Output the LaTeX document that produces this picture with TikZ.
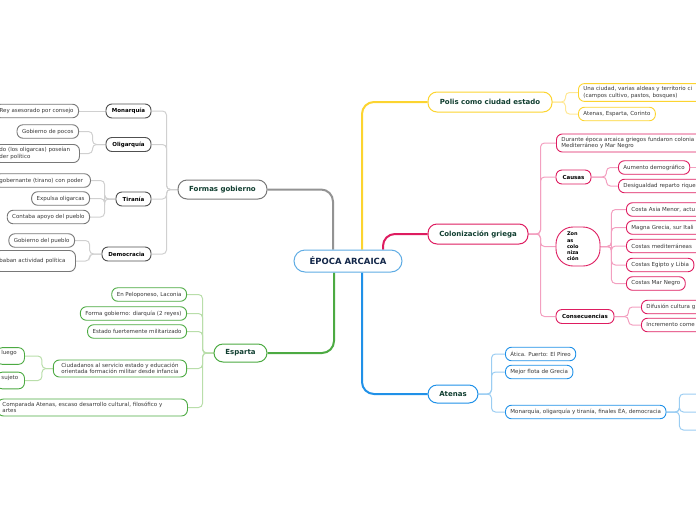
\documentclass[tikz,border=0pt]{standalone}
\usepackage{fontspec}
\setmainfont{DejaVu Sans}
\usetikzlibrary{positioning, backgrounds}
\definecolor{cGrey}{RGB}{120,120,120}
\definecolor{cGreyD}{RGB}{80,80,80}
\definecolor{cGreyL}{RGB}{208,208,208}
\definecolor{cGreen}{RGB}{76,170,66}
\definecolor{cGreenL}{RGB}{185,222,170}
\definecolor{cYel}{RGB}{252,212,48}
\definecolor{cYelL}{RGB}{255,232,150}
\definecolor{cPink}{RGB}{222,28,96}
\definecolor{cPinkL}{RGB}{243,160,192}
\definecolor{cBlue}{RGB}{32,145,232}
\definecolor{cBlueL}{RGB}{155,205,242}
\definecolor{cRoot}{RGB}{95,172,228}
\definecolor{cNavy}{RGB}{18,38,72}
\definecolor{cDark}{RGB}{16,62,48}

\begin{document}
\begin{tikzpicture}[x=1pt, y=-1pt,
    main/.style={draw=#1, fill=white, line width=1pt, rounded corners=9pt, inner xsep=6pt, inner ysep=2pt, font=\fontsize{7}{8}\selectfont\bfseries, text=cDark},
    hub/.style={draw=#1, fill=white, line width=0.9pt, rounded corners=6pt, inner xsep=5pt, inner ysep=2pt, minimum height=14pt, font=\fontsize{5.5}{6.5}\selectfont\bfseries},
    leaf/.style={draw=#1, fill=white, line width=0.9pt, rounded corners=6pt, inner xsep=5pt, inner ysep=3pt, minimum height=13.5pt, align=left, font=\fontsize{5.5}{6.5}\selectfont, text=black!78},
    trunk/.style={draw=#1, line width=2pt, rounded corners=12pt},
    link/.style={draw=#1, line width=1pt, rounded corners=4pt}]
  \useasboundingbox (0,0) rectangle (696,520);
  \clip (0,0) rectangle (696,520);

  % centre and main branches
  \node[main=cRoot, text=cNavy, font=\fontsize{8.5}{10}\selectfont\bfseries, minimum width=108pt, minimum height=22pt, rounded corners=11pt] (root) at (348,261) {ÉPOCA ARCAICA};
  \node[main=cGrey, minimum width=89pt, minimum height=19pt] (formas) at (222.5,189.5) {Formas gobierno};
  \node[main=cGreen, minimum width=53pt, minimum height=18pt] (esparta) at (240.5,353) {Esparta};
  \node[main=cYel, minimum width=124pt, minimum height=20pt] (polis) at (490,102) {Polis como ciudad estado};
  \node[main=cPink, minimum width=100pt, minimum height=20pt] (colon) at (478,234) {Colonización griega};
  \node[main=cBlue, minimum width=50pt, minimum height=18pt] (atenas) at (453,394) {Atenas};

  % formas gobierno
  \node[hub=cGreyD, minimum width=45pt] (mon) at (128.5,111) {Monarquía};
  \node[hub=cGreyD, minimum width=45pt] (oli) at (128.5,144.5) {Oligarquía};
  \node[hub=cGreyD, minimum width=35pt] (tir) at (133.5,199) {Tiranía};
  \node[hub=cGreyD, minimum width=49pt] (dem) at (126.5,254) {Democracia};
  \node[leaf=cGrey, anchor=east] (rey) at (79,111) {Rey asesorado por consejo};
  \node[leaf=cGrey, anchor=east] (pocos) at (79,131.5) {Gobierno de pocos};
  \node[leaf=cGrey, anchor=west, text width=75pt] (oligdo) at (-6,153.5) {do (los oligarcas) poseían\\der político};
  \node[leaf=cGrey, anchor=west, text width=86pt] (gobt) at (-6,180.5) {gobernante (tirano) con poder};
  \node[leaf=cGrey, anchor=east] (expulsa) at (90,198.5) {Expulsa oligarcas};
  \node[leaf=cGrey, anchor=east] (contaba) at (90,217) {Contaba apoyo del pueblo};
  \node[leaf=cGrey, anchor=east] (gobp) at (75,240.5) {Gobierno del pueblo};
  \node[leaf=cGrey, anchor=west, text width=71pt, minimum height=21pt] (baban) at (-6,261) {baban actividad política};

  % esparta
  \node[leaf=cGreen, anchor=east] (pelo) at (187,294.5) {En Peloponeso, Laconia};
  \node[leaf=cGreen, anchor=east] (diarq) at (187,313.5) {Forma gobierno: diarquía (2 reyes)};
  \node[leaf=cGreen, anchor=east] (milit) at (187,331.5) {Estado fuertemente militarizado};
  \node[leaf=cGreen, anchor=east, inner xsep=8pt] (ciud) at (187,368.5) {Ciudadanos al servicio estado y educación\\orientada formación militar desde infancia};
  \node[leaf=cGreen, anchor=west, text width=180pt] (compa) at (-3,407.5) {Comparada Atenas, escaso desarrollo cultural, filosófico y\\artes};
  \node[leaf=cGreen, anchor=west, text width=18pt] (luego) at (-4,356) {luego\\\mbox{}};
  \node[leaf=cGreen, anchor=west, text width=18pt] (sujeto) at (-4,380.5) {sujeto\\\mbox{}};

  % polis
  \node[leaf=cYel, anchor=west, text width=140pt] (una) at (578,92.5) {Una ciudad, varias aldeas y territorio ci\\(campos cultivo, pastos, bosques)};
  \node[leaf=cYel, anchor=west] (atec) at (578,114) {Atenas, Esparta, Corinto};

  % colonizacion
  \node[leaf=cPink, anchor=west, text width=150pt] (durante) at (556,143) {Durante época arcaica griegos fundaron colonia\\Mediterráneo y Mar Negro};
  \node[hub=cPink, minimum width=35pt] (causas) at (573.5,177) {Causas};
  \node[hub=cPink, minimum width=44pt, minimum height=39pt, rounded corners=17pt, text width=22pt, align=left, font=\fontsize{5}{6.2}\selectfont\bfseries] (zonas) at (578,246.5) {Zon\\as\\colo\\niza\\ción};
  \node[hub=cPink, minimum width=58pt] (conse) at (585,316.5) {Consecuencias};
  \node[leaf=cPink, anchor=west] (aum) at (618,167.5) {Aumento demográfico};
  \node[leaf=cPink, anchor=west, text width=90pt] (desig) at (618,186) {Desigualdad reparto rique};
  \node[leaf=cPink, anchor=west, text width=80pt] (asia) at (626,209.5) {Costa Asia Menor, actu};
  \node[leaf=cPink, anchor=west, text width=80pt] (magna) at (626,227.5) {Magna Grecia, sur Itali};
  \node[leaf=cPink, anchor=west, text width=80pt] (cmed) at (626,246) {Costas mediterráneas};
  \node[leaf=cPink, anchor=west] (egip) at (626,265) {Costas Egipto y Libia};
  \node[leaf=cPink, anchor=west] (mnegro) at (626,283.5) {Costas Mar Negro};
  \node[leaf=cPink, anchor=west, text width=80pt] (difu) at (641,307) {Difusión cultura g};
  \node[leaf=cPink, anchor=west, text width=80pt] (incr) at (641,325) {Incremento come};
  \coordinate (aum1) at (697,167.5);

  % atenas
  \node[leaf=cBlue, anchor=west] (atica) at (505,354) {Ática. Puerto: El Pireo};
  \node[leaf=cBlue, anchor=west] (flota) at (505,372) {Mejor flota de Grecia};
  \node[leaf=cBlue, anchor=west] (monea) at (505,412) {Monarquía, oligarquía y tiranía, finales ÉA, democracia};
  \coordinate (ea1) at (697,394);
  \coordinate (ea2) at (697,412);
  \coordinate (ea3) at (697,430);

  \begin{scope}[on background layer]
    \draw[trunk=cGrey!80] ([xshift=-15pt]root.north) |- (formas.east);
    \draw[trunk=cGreen] ([xshift=-14pt]root.south) |- (esparta.east);
    \draw[trunk=cYel] ([xshift=14pt]root.north) |- (polis.west);
    \draw[trunk=cPink] ([xshift=35pt]root.north) |- (colon.west);
    \draw[trunk=cBlue] ([xshift=14pt]root.south) |- (atenas.west);

    \foreach \c in {mon, oli, tir, dem}
      \draw[link=cGreyL] (formas.west) -- ++(-11,0) |- (\c.east);
    \draw[link=cGreyL] (mon.west) -- (rey.east);
    \foreach \c in {pocos, oligdo}
      \draw[link=cGreyL] (oli.west) -- ++(-13,0) |- (\c.east);
    \foreach \c in {gobt, expulsa, contaba}
      \draw[link=cGreyL] (tir.west) -- ++(-11,0) |- (\c.east);
    \foreach \c in {gobp, baban}
      \draw[link=cGreyL] (dem.west) -- ++(-12,0) |- (\c.east);

    \foreach \c in {pelo, diarq, milit, ciud, compa}
      \draw[link=cGreenL] (esparta.west) -- ++(-11,0) |- (\c.east);
    \foreach \c in {luego, sujeto}
      \draw[link=cGreenL] (ciud.west) -- ++(-11,0) |- (\c.east);

    \foreach \c in {una, atec}
      \draw[link=cYelL] (polis.east) -- ++(13,0) |- (\c.west);

    \foreach \c in {durante, causas, zonas, conse}
      \draw[link=cPinkL] (colon.east) -- ++(12,0) |- (\c.west);
    \foreach \c in {aum, desig}
      \draw[link=cPinkL] (causas.east) -- ++(15,0) |- (\c.west);
    \foreach \c in {asia, magna, cmed, egip, mnegro}
      \draw[link=cPinkL] (zonas.east) -- ++(11,0) |- (\c.west);
    \foreach \c in {difu, incr}
      \draw[link=cPinkL] (conse.east) -- ++(14,0) |- (\c.west);
    \draw[link=cPinkL] (aum.east) -- (aum1);

    \foreach \c in {atica, flota, monea}
      \draw[link=cBlueL] (atenas.east) -- ++(13,0) |- (\c.west);
    \foreach \c in {ea1, ea2, ea3}
      \draw[link=cBlueL] (monea.east) -- ++(13,0) |- (\c);
  \end{scope}
\end{tikzpicture}
\end{document}
